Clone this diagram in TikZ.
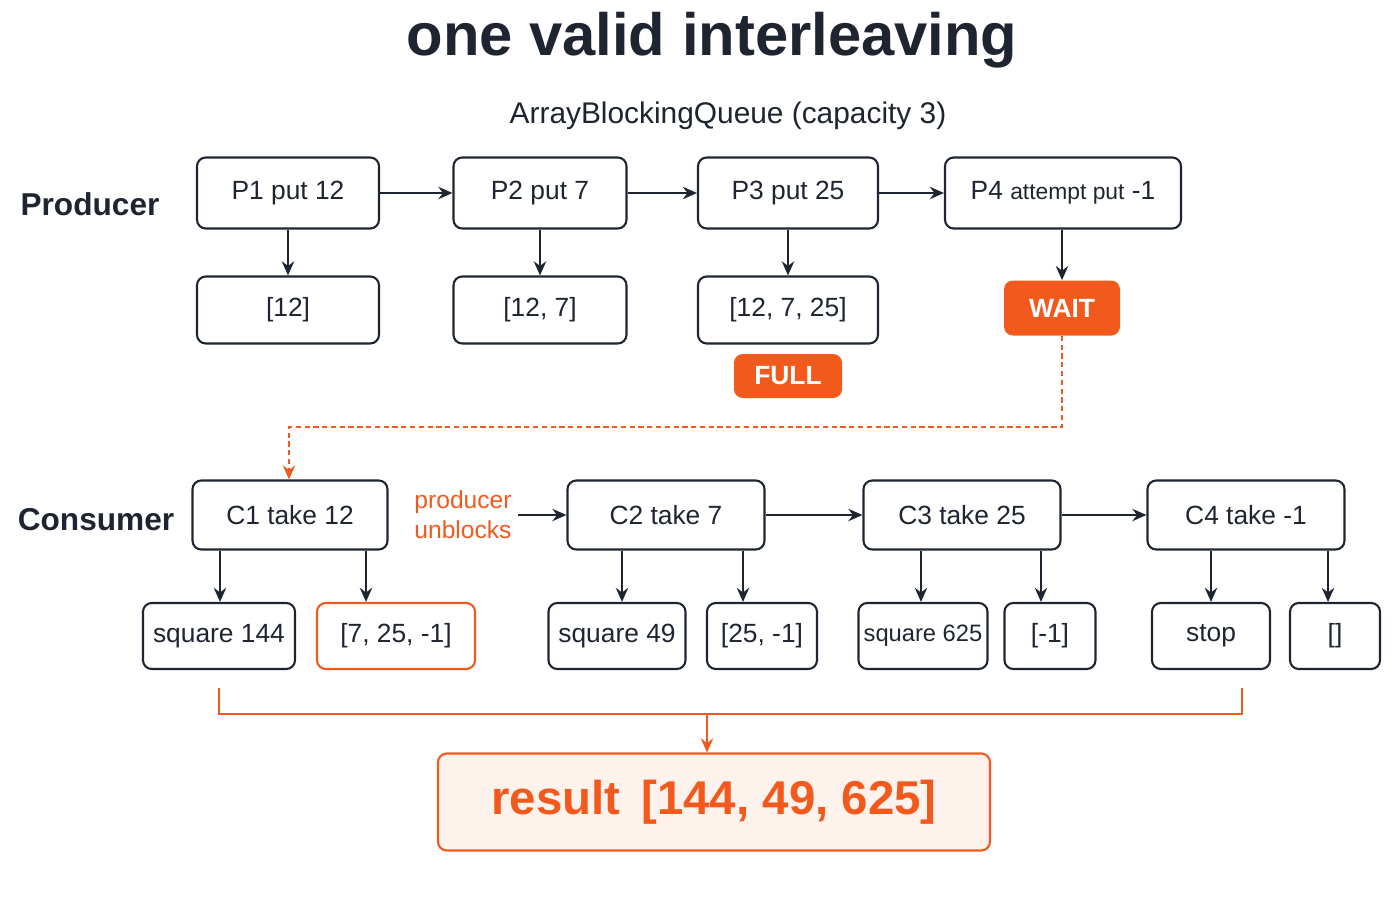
\documentclass[tikz,border=0pt]{standalone}
\usepackage{fontspec}
\setmainfont{Liberation Sans}
\usepackage{xcolor}
\usetikzlibrary{arrows.meta}
\definecolor{myorange}{HTML}{F25A1D}
\definecolor{mydark}{HTML}{1E2530}
\tikzstyle{box} = [draw=mydark, line width=1.2pt, rounded corners=5pt, align=center, font=\fontsize{15}{17}\selectfont, text=mydark, inner sep=0pt]
\tikzstyle{tag} = [fill=myorange, rounded corners=5pt, text=white, font=\bfseries\fontsize{15}{17}\selectfont, inner sep=0pt]
\tikzstyle{arrow} = [-{Stealth[length=8pt,width=7pt]}, draw=mydark, line width=1.5pt]
\tikzstyle{oarrow} = [-{Stealth[length=8pt,width=7pt]}, draw=myorange, line width=1.3pt]

\begin{document}
\begin{tikzpicture}[x=0.02cm,y=-0.02cm]
            \useasboundingbox (0,0) rectangle (1400,900);
            % titles
            \node[font=\bfseries\fontsize{34}{38}\selectfont, text=mydark] (title) at (712,40) {one valid interleaving};
            \node[font=\fontsize{17}{20}\selectfont, text=mydark] (sub) at (728,116) {ArrayBlockingQueue (capacity 3)};
            \node[font=\bfseries\fontsize{18}{20}\selectfont, text=mydark] (prod) at (90,204) {Producer};
            \node[font=\bfseries\fontsize{18}{20}\selectfont, text=mydark] (cons) at (96,520) {Consumer};
            % Producer row
            \node[box, minimum width=182*0.02cm, minimum height=71*0.02cm] (p1) at (288,193) {P1 put 12};
            \node[box, minimum width=173*0.02cm, minimum height=71*0.02cm] (p2) at (540,193) {P2 put 7};
            \node[box, minimum width=180*0.02cm, minimum height=71*0.02cm] (p3) at (788,193) {P3 put 25};
            \node[box, minimum width=236*0.02cm, minimum height=71*0.02cm] (p4) at (1063,193) {P4 {\fontsize{13}{15}\selectfont attempt put} -1};
            \node[box, minimum width=182*0.02cm, minimum height=67*0.02cm] (q1) at (288,310) {[12]};
            \node[box, minimum width=173*0.02cm, minimum height=67*0.02cm] (q2) at (540,310) {[12, 7]};
            \node[box, minimum width=180*0.02cm, minimum height=67*0.02cm] (q3) at (788,310) {[12, 7, 25]};
            \node[tag, minimum width=116*0.02cm, minimum height=55*0.02cm] (wait) at (1062,308) {WAIT};
            \node[tag, minimum width=108*0.02cm, minimum height=44*0.02cm] (full) at (788,376) {FULL};
            \draw[arrow] (p1) -- (p2);
            \draw[arrow] (p2) -- (p3);
            \draw[arrow] (p3) -- (p4);
            \draw[arrow] (p1) -- (q1);
            \draw[arrow] (p2) -- (q2);
            \draw[arrow] (p3) -- (q3);
            \draw[arrow] (p4.south -| wait) -- (wait);
            % Consumer row
            \node[box, minimum width=195*0.02cm, minimum height=69*0.02cm] (c1) at (290,515) {C1 take 12};
            \node[box, minimum width=197*0.02cm, minimum height=69*0.02cm] (c2) at (666,515) {C2 take 7};
            \node[box, minimum width=197*0.02cm, minimum height=69*0.02cm] (c3) at (962,515) {C3 take 25};
            \node[box, minimum width=197*0.02cm, minimum height=69*0.02cm] (c4) at (1246,515) {C4 take -1};
            \node[text=myorange, align=left, font=\fontsize{14}{17}\selectfont] (unb) at (463,515) {producer\\unblocks};
            \draw[oarrow, densely dashed] (wait) -- (1062,427) -- (289,427) -- (c1.north -| 289,0);
            \draw[arrow] (unb) -- (c2);
            \draw[arrow] (c2) -- (c3);
            \draw[arrow] (c3) -- (c4);
            \node[box, minimum width=152*0.02cm, minimum height=66*0.02cm] (r1) at (219,636) {square 144};
            \node[box, draw=myorange, minimum width=158*0.02cm, minimum height=66*0.02cm] (s1) at (396,636) {[7, 25, -1]};
            \node[box, minimum width=137*0.02cm, minimum height=66*0.02cm] (r2) at (617,636) {square 49};
            \node[box, minimum width=110*0.02cm, minimum height=66*0.02cm] (s2) at (762,636) {[25, -1]};
            \node[box, minimum width=129*0.02cm, minimum height=66*0.02cm] (r3) at (923,636) {\fontsize{13.5}{16}\selectfont square 625};
            \node[box, minimum width=91*0.02cm, minimum height=66*0.02cm] (s3) at (1050,636) {[-1]};
            \node[box, minimum width=118*0.02cm, minimum height=66*0.02cm] (r4) at (1211,636) {stop};
            \node[box, minimum width=90*0.02cm, minimum height=66*0.02cm] (s4) at (1335,636) {[]};
            \draw[arrow] (c1.south -| 220,0) -- (r1.north -| 220,0);
            \draw[arrow] (c1.south -| 366,0) -- (s1.north -| 366,0);
            \draw[arrow] (c2.south -| 622,0) -- (r2.north -| 622,0);
            \draw[arrow] (c2.south -| 743,0) -- (s2.north -| 743,0);
            \draw[arrow] (c3.south -| 921,0) -- (r3.north -| 921,0);
            \draw[arrow] (c3.south -| 1041,0) -- (s3.north -| 1041,0);
            \draw[arrow] (c4.south -| 1211,0) -- (r4.north);
            \draw[arrow] (c4.south -| 1328,0) -- (s4.north -| 1328,0);
            % result
            \node[box, draw=myorange, fill=myorange!8, text=myorange, minimum width=552*0.02cm, minimum height=97*0.02cm, font=\bfseries\fontsize{27}{30}\selectfont] (res) at (714,802) {result\, [144, 49, 625]};
            \draw[draw=myorange, line width=1.2pt] (r1.south) ++(0,18) -- (219,714) -- (1242,714) -- (1242,688);
            \draw[oarrow] (707,714) -- (res.north -| 707,0);
        \end{tikzpicture}
\end{document}
